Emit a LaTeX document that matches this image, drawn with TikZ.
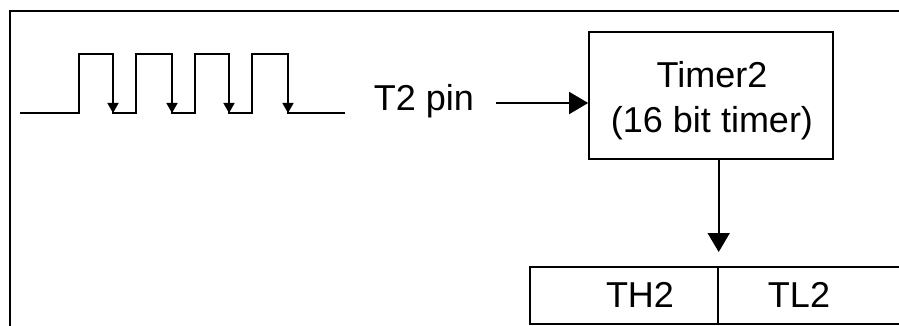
\documentclass[tikz,border=0pt]{standalone}
\usepackage{fontspec}
\setmainfont{Liberation Sans}
\usetikzlibrary{arrows.meta,calc}
\begin{document}
\begin{tikzpicture}[x=1pt,y=-1pt,
  line/.style={line width=1.7pt},
  bigarrow/.style={line width=1.7pt,-{Triangle[length=19pt,width=22pt]}},
  smallarrow/.style={line width=1.7pt,-{Triangle[length=10pt,width=11pt]}},
  lbl/.style={font=\fontsize{36}{44}\selectfont,inner sep=0pt,anchor=base},
  cell/.style={draw,line width=1.7pt,minimum height=57pt,inner sep=0pt,anchor=north west}]
\useasboundingbox (0,0) rectangle (899,326);
% frame
\draw[line width=2pt] (10,330) -- (10,11) -- (905,11);
% waveform
\draw[line] (20,113) -- (79,113) -- (79,54) -- (113,54) -- (113,113) -- (136,113) -- (136,54)
  -- (172,54) -- (172,113) -- (195,113) -- (195,54) -- (229,54) -- (229,113)
  -- (252,113) -- (252,54) -- (288,54) -- (288,113) -- (345,113);
\foreach \x in {113,172,229,288} {
  \coordinate (hi\x) at (\x,54);
  \coordinate (lo\x) at (\x,113);
  \draw[smallarrow] (hi\x) -- (lo\x);
}
% T2 pin
\node[lbl] (t2) at (424,111) {T2 pin};
% Timer box
\node[draw,line width=1.7pt,minimum width=244pt,minimum height=127pt,inner sep=0pt] (timer) at (711,95.5) {};
\node[lbl] (tl1) at (712,88) {Timer2};
\node[lbl] (tl2) at (712,132) {(16 bit timer)};
\coordinate (a) at (496,103);
\draw[bigarrow] (a) -- (a -| timer.west);
% register
\node[cell,minimum width=188pt] (th2) at (529,266) {};
\node[cell,minimum width=400pt] (tl2c) at (717,266) {};
\node[lbl] at (640,307) {TH2};
\node[lbl] at (799,307) {TL2};
\coordinate (b) at ($(th2.north east)+(0,-14)$);
\draw[bigarrow] (timer.south -| th2.east) -- (b);
\end{tikzpicture}
\end{document}
